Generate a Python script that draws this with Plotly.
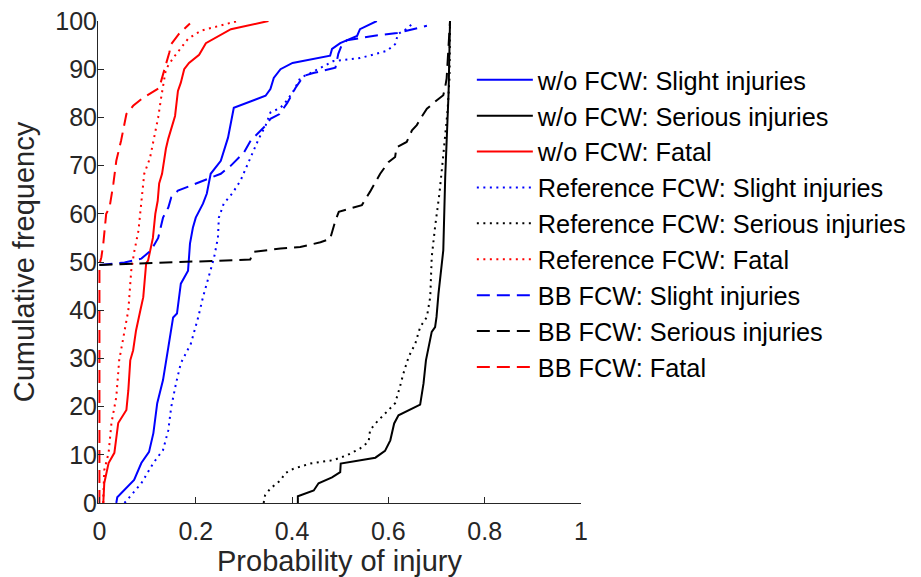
import plotly.graph_objects as go

# probability of injury (x) and cumulative frequency in % (y)
wo_slight_x = [0.035, 0.037, 0.072, 0.087, 0.103, 0.112, 0.120, 0.132, 0.143, 0.153, 0.161, 0.169, 0.184, 0.188,
               0.194, 0.200, 0.215, 0.223, 0.231, 0.252, 0.267, 0.273, 0.279, 0.345, 0.355, 0.362, 0.376, 0.401,
               0.479, 0.483, 0.500, 0.535, 0.541, 0.576]
wo_slight_y = [0, 1.2, 4.8, 8.3, 10.6, 14.5, 20.7, 25.5, 32.3, 38.5, 39.3, 45.5, 48.2, 53.8,
               57.1, 59.2, 62.1, 64.2, 68.3, 71, 75.8, 79.3, 82, 84.5, 85.9, 88.2, 90, 91.3,
               92.8, 94.2, 95.4, 96.9, 98.3, 100]

wo_serious_x = [0.412, 0.412, 0.445, 0.455, 0.483, 0.500, 0.501, 0.573, 0.593, 0.604, 0.612, 0.621, 0.666,
                0.673, 0.678, 0.685, 0.690, 0.697, 0.700, 0.704, 0.709, 0.714, 0.718, 0.725, 0.728]
wo_serious_y = [0, 1.4, 2.6, 4.1, 5.3, 6.4, 8.2, 9.4, 10.8, 13, 16.5, 18.2, 20.4,
                24.8, 29.6, 33.1, 35.5, 36.5, 38.6, 43.4, 47.6, 52.4, 67.6, 85, 100]

wo_fatal_x = [0.008, 0.010, 0.019, 0.031, 0.039, 0.056, 0.060, 0.064, 0.070, 0.076, 0.085, 0.091, 0.097,
              0.101, 0.111, 0.116, 0.121, 0.124, 0.130, 0.138, 0.143, 0.149, 0.157, 0.163, 0.169, 0.176,
              0.186, 0.207, 0.221, 0.273, 0.351]
wo_fatal_y = [0, 4.1, 8.3, 10.4, 16.6, 19.3, 23.4, 29.6, 31.7, 35.8, 40, 42.7, 49.7,
              50.3, 55, 60, 62.7, 66.3, 68.3, 73.5, 75.6, 77.8, 80.3, 85.5, 87.2, 90,
              91.3, 93, 95.4, 98.3, 100]

ref_slight_x = [0.052, 0.087, 0.112, 0.132, 0.143, 0.149, 0.159, 0.169, 0.190, 0.205, 0.215, 0.231, 0.238,
                0.246, 0.248, 0.258, 0.277, 0.293, 0.308, 0.320, 0.331, 0.345, 0.355, 0.376, 0.390, 0.403,
                0.417, 0.438, 0.486, 0.541, 0.597, 0.614, 0.620, 0.640, 0.651]
ref_slight_y = [0, 4.1, 8.3, 11, 15.1, 19.9, 24.8, 29, 33.1, 38.5, 42.7, 48.2, 50.9,
                55, 59.2, 62.1, 64.4, 66.9, 70.4, 73.1, 75.6, 78.3, 81, 82, 83.6, 85.5,
                88.2, 89.2, 91.7, 92.3, 93.8, 95.2, 97.3, 98.5, 99.6]

ref_serious_x = [0.341, 0.344, 0.355, 0.376, 0.386, 0.403, 0.438, 0.486, 0.514, 0.541, 0.559, 0.562, 0.573,
                 0.597, 0.614, 0.624, 0.631, 0.642, 0.656, 0.666, 0.680, 0.687, 0.690, 0.697, 0.706, 0.713,
                 0.718, 0.723, 0.727, 0.728]
ref_serious_y = [0, 1.6, 3, 4.7, 6.2, 7.1, 8.2, 8.9, 9.9, 11.3, 12.7, 15.1, 16.5,
                 18.9, 20.7, 24.1, 26.8, 30.3, 33.1, 36.5, 38.6, 42.8, 51, 57.3, 64.2, 71.1,
                 76, 81.5, 88.4, 100]

ref_fatal_x = [0.008, 0.008, 0.010, 0.019, 0.025, 0.035, 0.041, 0.052, 0.060, 0.066, 0.072, 0.081, 0.087,
               0.093, 0.105, 0.114, 0.122, 0.128, 0.134, 0.138, 0.153, 0.169, 0.184, 0.211, 0.256, 0.287]
ref_fatal_y = [0, 1.2, 6.8, 10.4, 16.6, 22, 29.6, 35.8, 40, 48.2, 52, 56.5, 62,
               68.3, 71.6, 75.8, 80, 84, 88.2, 90, 92.3, 94.4, 96.3, 98, 99.2, 100]

# the BB slight/serious curves' vertical run on x=0 is hidden under the fatal one, so they start at the jump
bb_slight_x = [0, 0.052, 0.087, 0.093, 0.107, 0.122, 0.132, 0.143, 0.149, 0.163, 0.225, 0.252, 0.273,
               0.300, 0.314, 0.349, 0.355, 0.374, 0.390, 0.407, 0.424, 0.444, 0.490, 0.496, 0.504, 0.514,
               0.568, 0.618, 0.680]
bb_slight_y = [49.4, 49.9, 50.7, 51.2, 52.4, 55, 59.2, 61.3, 63.4, 64.8, 67.3, 68.3, 70,
               72.7, 75.2, 78.7, 79.7, 80.7, 83, 86.1, 88.6, 89.2, 90.3, 93.2, 95.2, 96,
               96.9, 97.5, 99]

bb_serious_x = [0, 0.313, 0.320, 0.376, 0.417, 0.459, 0.479, 0.490, 0.497, 0.545, 0.562, 0.583, 0.600,
                0.614, 0.617, 0.638, 0.649, 0.659, 0.669, 0.680, 0.700, 0.714, 0.718, 0.721, 0.728]
bb_serious_y = [49.4, 50.5, 52.1, 52.8, 53.1, 54.1, 54.8, 58.6, 60.4, 61.8, 64.6, 68.3, 70.7,
                71.8, 73.8, 74.9, 77.3, 78.4, 80.1, 81.8, 83.5, 84.6, 86.3, 88.1, 100]

bb_fatal_x = [0, 0, 0.004, 0.008, 0.014, 0.021, 0.029, 0.035, 0.045, 0.052, 0.056, 0.070, 0.087, 0.124,
              0.132, 0.138, 0.145, 0.149, 0.165, 0.188]
bb_fatal_y = [0, 49.5, 51, 53.8, 60, 61.3, 66.3, 71, 75.2, 78.3, 80.7, 82.4, 83.8, 86.1,
              89.2, 91, 93.4, 95.2, 97.3, 99.5]

series = [
    ("w/o FCW: Slight injuries", wo_slight_x, wo_slight_y, "#0000ff", "solid"),
    ("w/o FCW: Serious injuries", wo_serious_x, wo_serious_y, "#000000", "solid"),
    ("w/o FCW: Fatal", wo_fatal_x, wo_fatal_y, "#ff0000", "solid"),
    ("Reference FCW: Slight injuries", ref_slight_x, ref_slight_y, "#0000ff", "2px,4.5px"),
    ("Reference FCW: Serious injuries", ref_serious_x, ref_serious_y, "#000000", "2px,4.5px"),
    ("Reference FCW: Fatal", ref_fatal_x, ref_fatal_y, "#ff0000", "2px,4.5px"),
    ("BB FCW: Slight injuries", bb_slight_x, bb_slight_y, "#0000ff", "13px,7px"),
    ("BB FCW: Serious injuries", bb_serious_x, bb_serious_y, "#000000", "13px,7px"),
    ("BB FCW: Fatal", bb_fatal_x, bb_fatal_y, "#ff0000", "13px,7px"),
]

fig = go.Figure()
for i, (name, xs, ys, col, dash) in enumerate(series):
    fig.add_trace(go.Scatter(
        x=xs, y=ys, name=name, mode="lines",
        line=dict(color=col, width=2, dash=dash),
        legendgroup="g%d" % i,
    ))

axis_col = "#262626"
# page body keeps its default 8px margin, so the figure is a bit smaller than the window
fig.update_layout(
    width=913, height=569,
    margin=dict(l=90, r=340, t=13, b=74, autoexpand=False),
    plot_bgcolor="white", paper_bgcolor="white",
    font=dict(family="Liberation Sans, Arial", color=axis_col, size=25),
    showlegend=True,
    legend=dict(
        x=0.774, xanchor="left", y=0.9256, yanchor="top",
        bgcolor="rgba(255,255,255,1)",
        font=dict(size=25.3, color="black"),
        itemwidth=56,
        traceorder="grouped", tracegroupgap=0,
    ),
)

# x range starts a hair below 0 so the lines sitting on x=0 are not half clipped
fig.update_xaxes(
    range=[-0.003, 1], tickvals=[0, 0.2, 0.4, 0.6, 0.8, 1], ticktext=["0", "0.2", "0.4", "0.6", "0.8", "1"],
    showline=True, linecolor=axis_col, linewidth=1, showgrid=False, zeroline=False,
    ticks="inside", ticklen=6, tickcolor=axis_col, automargin=False, ticklabelstandoff=6,
    ticklabeloverflow="allow",
    title=dict(text="Probability of injury", font=dict(size=29), standoff=4),
)
fig.update_yaxes(
    range=[0, 100], dtick=10,
    showline=True, linecolor=axis_col, linewidth=1, showgrid=False, zeroline=False,
    ticks="inside", ticklen=6, tickcolor=axis_col, automargin=False, ticklabelstandoff=-5,
    ticklabeloverflow="allow",
    title=dict(text="Cumulative frequency", font=dict(size=29), standoff=26),
)

fig.write_html("out.html")
